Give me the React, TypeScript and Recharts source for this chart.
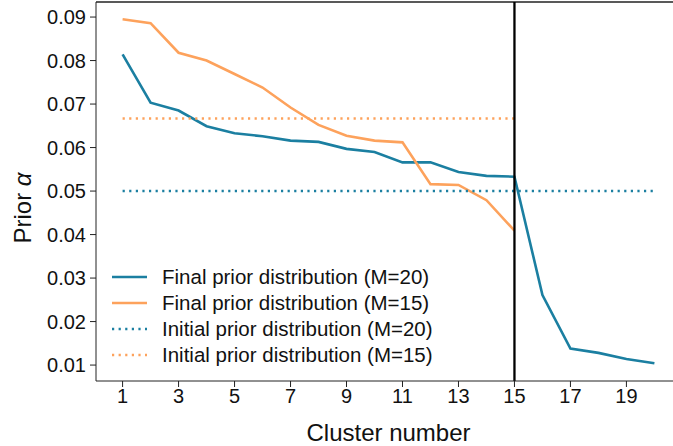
import React from "react"
import { LineChart, Line, XAxis, YAxis, ReferenceLine, Legend } from "recharts"

const clusters = [1, 2, 3, 4, 5, 6, 7, 8, 9, 10, 11, 12, 13, 14, 15, 16, 17, 18, 19, 20]
const finalM20 = [
  0.0814, 0.0703, 0.0685, 0.0649, 0.0633, 0.0626, 0.0616, 0.0613, 0.0597, 0.059,
  0.0566, 0.0566, 0.0544, 0.0535, 0.0533, 0.0261, 0.0138, 0.0128, 0.0114, 0.0104,
]
const finalM15 = [
  0.0895, 0.0886, 0.0818, 0.08, 0.0769, 0.0738, 0.0692, 0.0652, 0.0627, 0.0616,
  0.0612, 0.0516, 0.0514, 0.0479, 0.0409,
]
const initialM20 = [
  0.05, 0.05, 0.05, 0.05, 0.05, 0.05, 0.05, 0.05, 0.05, 0.05,
  0.05, 0.05, 0.05, 0.05, 0.05, 0.05, 0.05, 0.05, 0.05, 0.05,
]
const initialM15 = [
  0.0667, 0.0667, 0.0667, 0.0667, 0.0667, 0.0667, 0.0667, 0.0667, 0.0667, 0.0667,
  0.0667, 0.0667, 0.0667, 0.0667, 0.0667,
]
const xTicks = [1, 3, 5, 7, 9, 11, 13, 15, 17, 19]
const yTicks = [0.01, 0.02, 0.03, 0.04, 0.05, 0.06, 0.07, 0.08, 0.09]
const cutoff = 15

const BLUE = "#1b7fa1"
const ORANGE = "#fda25c"
const FONT = "'Liberation Sans', Arial, Helvetica, sans-serif"

const data = clusters.map((c, i) => ({
  x: c,
  finalM20: finalM20[i],
  finalM15: finalM15[i],
  initialM20: initialM20[i],
  initialM15: initialM15[i],
}))

const legendItems = [
  { label: "Final prior distribution (M=20)", color: BLUE, dotted: false },
  { label: "Final prior distribution (M=15)", color: ORANGE, dotted: false },
  { label: "Initial prior distribution (M=20)", color: BLUE, dotted: true },
  { label: "Initial prior distribution (M=15)", color: ORANGE, dotted: true },
]

const renderLegend = () => (
  <div style={{ fontFamily: FONT, fontSize: 20.5, color: "#111", lineHeight: "26px" }}>
    {legendItems.map((item) => (
      <div key={item.label} style={{ display: "flex", alignItems: "center", height: 26 }}>
        <svg width={35} height={10} style={{ marginRight: 15, flexShrink: 0 }}>
          <line
            x1={0}
            x2={35}
            y1={5}
            y2={5}
            stroke={item.color}
            strokeWidth={2.5}
            strokeDasharray={item.dotted ? "2.2 4.4" : undefined}
          />
        </svg>
        <span style={{ whiteSpace: "nowrap" }}>{item.label}</span>
      </div>
    ))}
  </div>
)

const yLabel = () => (
  <text
    x={22}
    y={208}
    transform="rotate(-90, 22, 208)"
    textAnchor="middle"
    dominantBaseline="central"
    fontSize={24}
    fontFamily={FONT}
    fill="#111"
  >
    Prior <tspan fontStyle="italic">α</tspan>
  </text>
)

export default function App() {
  return (
    <div style={{ position: "fixed", left: 0, top: 0, width: 673, height: 446, overflow: "hidden", background: "#fff" }}>
      <LineChart width={681} height={446} data={data} margin={{ top: 2, right: 0, left: 0, bottom: 0 }}>
        <XAxis
          dataKey="x"
          type="number"
          domain={[0.05, 20.95]}
          ticks={xTicks}
          allowDataOverflow
          height={65}
          tickSize={6}
          tickMargin={2}
          stroke="#222"
          tick={{ fill: "#111", fontSize: 20, fontFamily: FONT }}
          label={{ value: "Cluster number", position: "insideBottom", offset: 5, fontSize: 24, fontFamily: FONT, fill: "#111" }}
        />
        <YAxis
          type="number"
          domain={[0.00634, 0.09346]}
          ticks={yTicks}
          allowDataOverflow
          width={96}
          tickSize={6}
          tickMargin={4}
          stroke="#222"
          tickFormatter={(v: number) => v.toFixed(2)}
          tick={{ fill: "#111", fontSize: 20, fontFamily: FONT }}
          label={yLabel}
        />
        <ReferenceLine y={0.09346} stroke="#222" strokeWidth={1.3} ifOverflow="visible" />
        <Line dataKey="finalM20" stroke={BLUE} strokeWidth={2.6} dot={false} isAnimationActive={false} />
        <Line dataKey="finalM15" stroke={ORANGE} strokeWidth={2.6} dot={false} isAnimationActive={false} />
        <Line dataKey="initialM20" stroke={BLUE} strokeWidth={2.5} strokeDasharray="2.2 4.4" dot={false} isAnimationActive={false} />
        <Line dataKey="initialM15" stroke={ORANGE} strokeWidth={2.5} strokeDasharray="2.2 4.4" dot={false} isAnimationActive={false} />
        <ReferenceLine x={cutoff} stroke="#000" strokeWidth={2.3} />
        <Legend
          layout="horizontal"
          verticalAlign="middle"
          align="center"
          content={renderLegend}
          wrapperStyle={{ left: 112, top: 264, width: 360, height: 104 }}
        />
      </LineChart>
    </div>
  )
}
